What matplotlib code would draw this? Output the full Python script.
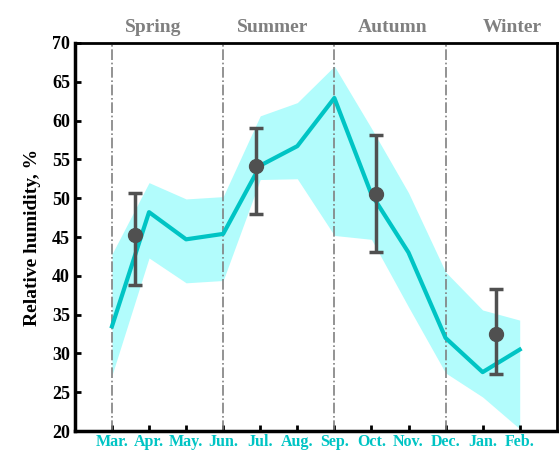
import matplotlib
matplotlib.use("Agg")
import matplotlib.pyplot as plt
import numpy as np

plt.rcParams['font.family'] = ['Liberation Serif', 'DejaVu Serif']
plt.rcParams['font.weight'] = 'bold'

# monthly data
months = ["Mar.", "Apr.", "May.", "Jun.", "Jul.", "Aug.", "Sep.", "Oct.", "Nov.", "Dec.", "Jan.", "Feb."]
rh_mean = [33.5, 48.2, 44.7, 45.4, 54.2, 56.7, 62.9, 50.5, 43.0, 32.0, 27.6, 30.5]
rh_upper = [42.8, 52.0, 49.9, 50.2, 60.6, 62.3, 67.0, 59.0, 50.7, 40.5, 35.6, 34.3]
rh_lower = [27.2, 42.3, 39.1, 39.4, 52.4, 52.5, 45.2, 44.7, 36.0, 27.5, 24.4, 20.3]

# seasonal means with error bars
seasons = ["Spring", "Summer", "Autumn", "Winter"]
season_x = [0.63, 3.88, 7.13, 10.37]
season_mean = [45.2, 54.2, 50.6, 32.5]
season_top = [50.7, 59.0, 58.1, 38.3]
season_bot = [38.8, 47.9, 43.1, 27.3]
season_label_x = [1.1, 4.33, 7.57, 10.8]
season_bounds = [0, 3, 6, 9]

line_col = '#00c4c4'
fill_col = '#b2fcfc'
err_col = '#505050'

fig = plt.figure(figsize=(5.59, 4.51), dpi=100)
ax = fig.add_axes([0.134, 0.044, 0.862, 0.861])

x = np.arange(len(months))
ax.fill_between(x, rh_lower, rh_upper, color=fill_col, lw=0, zorder=1)
ax.plot(x, rh_mean, color=line_col, lw=3, zorder=3)

for b in season_bounds:
    ax.axvline(b, color='#808080', ls='-.', lw=1.2, zorder=2)

sm = np.array(season_mean)
yerr = [sm - np.array(season_bot), np.array(season_top) - sm]
ax.errorbar(season_x, season_mean, yerr=yerr, fmt='o', color=err_col, ms=10,
            elinewidth=2.5, capsize=5, capthick=2.5, zorder=4)

# season names above the plot
for sx, s in zip(season_label_x, seasons):
    ax.text(sx, 71.4, s, ha='center', va='baseline', color='#808080',
            fontsize=14, fontweight='bold')

ax.set_xlim(-1, 12)
ax.set_ylim(20, 70)
ax.set_xticks(x)
ax.set_xticklabels(months, color=line_col, fontsize=11.5, fontweight='bold')
ax.set_yticks(np.arange(20, 71, 5))
ax.tick_params(axis='y', labelsize=13, direction='in', length=4, width=2)
ax.tick_params(axis='x', direction='in', length=4, width=2, pad=2)
for lab in ax.get_yticklabels():
    lab.set_fontweight('bold')
ax.set_ylabel("Relative humidity, %", fontsize=14, fontweight='bold', labelpad=8)

for side in ['left', 'bottom']:
    ax.spines[side].set_linewidth(2.5)
for side in ['top', 'right']:
    ax.spines[side].set_linewidth(2)

fig.savefig("out.png", dpi=100)
